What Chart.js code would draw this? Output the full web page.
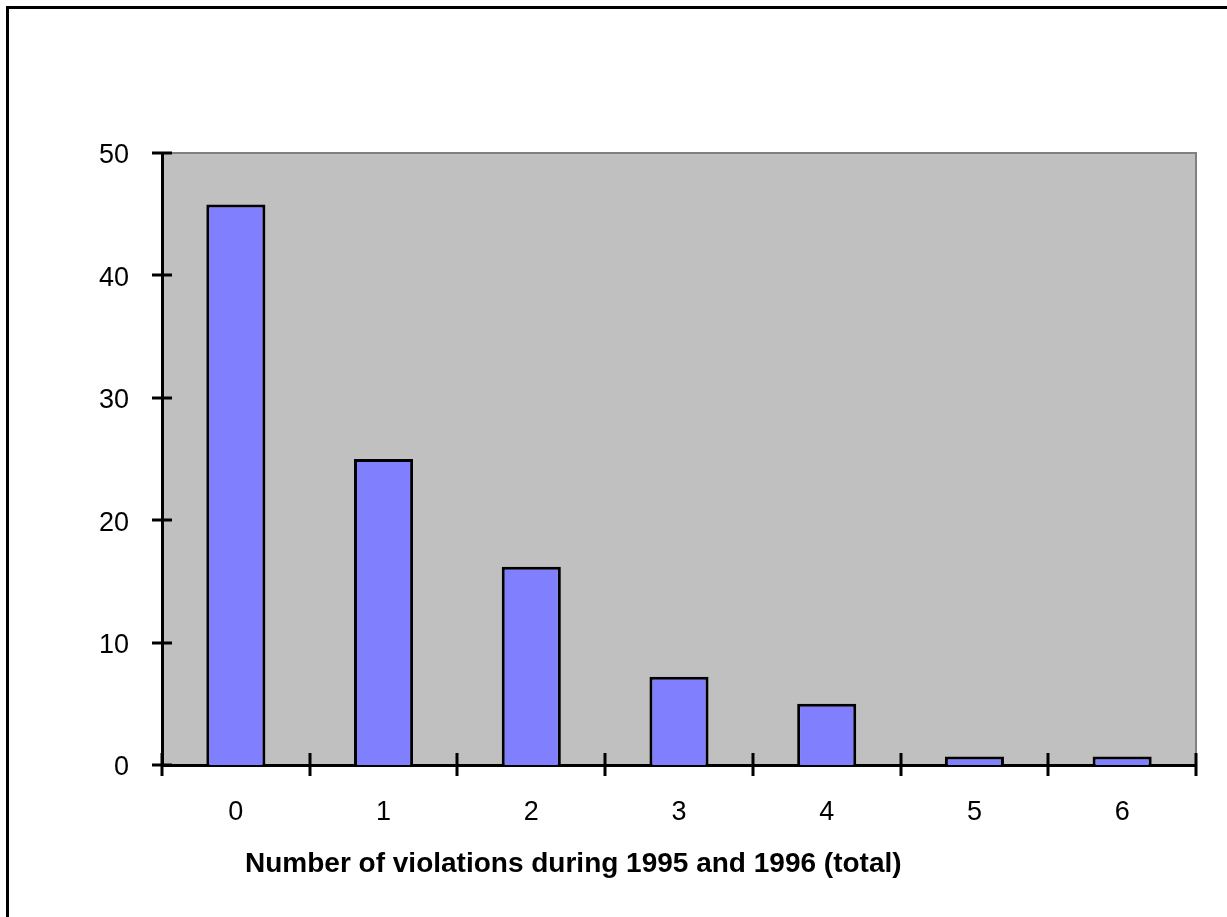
<!DOCTYPE html>
<html>
<head>
<meta charset="utf-8">
<title>Number of violations during 1995 and 1996</title>
<script src="https://cdn.jsdelivr.net/npm/chart.js@4/dist/chart.umd.min.js"></script>
<style>
  body { margin: 0; background: #fff; }
  canvas { display: block; }
</style>
</head>
<body>
<canvas id="violationsChart" width="1227" height="917"></canvas>
<script>
// Data (percent of cases)
const categories = ['0', '1', '2', '3', '4', '5', '6'];
const shareValues = [45.8, 25.0, 16.2, 7.2, 5.0, 0.7, 0.7];
const yTicks = [0, 10, 20, 30, 40, 50];
const xTitle = 'Number of violations during 1995 and 1996 (total)';

const FONT = "'Liberation Sans', Arial, sans-serif";

// grey plot area, outer frame, and the title under the axis
const backdrop = {
    id: 'backdrop',
    beforeDraw(chart) {
        const ctx = chart.ctx;
        const a = chart.chartArea;
        ctx.save();
        // outer frame (only top and left edges are visible)
        ctx.strokeStyle = '#000';
        ctx.lineWidth = 3;
        ctx.beginPath();
        ctx.moveTo(7.5, chart.height + 5);
        ctx.lineTo(7.5, 7.5);
        ctx.lineTo(chart.width + 5, 7.5);
        ctx.stroke();
        // plot area
        ctx.fillStyle = '#c0c0c0';
        ctx.fillRect(a.left, a.top, a.right - a.left, a.bottom - a.top);
        ctx.strokeStyle = '#808080';
        ctx.lineWidth = 2;
        ctx.beginPath();
        ctx.moveTo(a.left, a.top);
        ctx.lineTo(a.right, a.top);
        ctx.lineTo(a.right, a.bottom);
        ctx.stroke();
        ctx.restore();
    },
    afterDraw(chart) {
        const ctx = chart.ctx;
        const x = chart.scales.x;
        const y = chart.scales.y;
        ctx.save();
        ctx.strokeStyle = '#000';
        ctx.lineWidth = 3;
        ctx.beginPath();
        // y ticks cross the axis
        y.ticks.forEach(t => {
            const py = Math.round(y.getPixelForValue(t.value));
            ctx.moveTo(x.left - 10, py);
            ctx.lineTo(x.left + 10, py);
        });
        // x ticks sit between categories
        const bounds = [x.left];
        for (let i = 1; i < categories.length; i++) {
            bounds.push((x.getPixelForTick(i - 1) + x.getPixelForTick(i)) / 2);
        }
        bounds.push(x.right);
        bounds.forEach(px => {
            px = Math.round(px);
            ctx.moveTo(px, y.bottom - 12);
            ctx.lineTo(px, y.bottom + 11);
        });
        ctx.stroke();

        ctx.fillStyle = '#000';
        ctx.font = 'bold 28px ' + FONT;
        ctx.textAlign = 'left';
        ctx.textBaseline = 'alphabetic';
        ctx.fillText(xTitle, 245, 872);
        ctx.restore();
    }
};

const ctx = document.getElementById('violationsChart').getContext('2d');
new Chart(ctx, {
    type: 'bar',
    data: {
        labels: categories,
        datasets: [
            {
                data: shareValues,
                backgroundColor: '#8080ff',
                borderColor: '#000000',
                borderWidth: 3,
                barPercentage: 0.4,
                categoryPercentage: 1.0
            }
        ]
    },
    options: {
        responsive: false,
        animation: false,
        layout: {
            padding: { left: 0, top: 153, right: 31, bottom: 0 }
        },
        plugins: {
            legend: { display: false },
            tooltip: { enabled: false }
        },
        scales: {
            x: {
                grid: { display: false },
                border: { display: true, color: '#000', width: 3 },
                ticks: {
                    color: '#000',
                    font: { family: FONT, size: 27 },
                    padding: 23,
                    maxRotation: 0
                },
                afterFit(scale) { scale.height = 152; }
            },
            y: {
                min: 0,
                max: 50,
                afterBuildTicks(scale) {
                    scale.ticks = yTicks.map(v => ({ value: v }));
                },
                grid: { display: false },
                border: { display: true, color: '#000', width: 3 },
                ticks: {
                    color: '#000',
                    font: { family: FONT, size: 27 },
                    padding: 25,
                    labelOffset: 3
                },
                afterFit(scale) { scale.width = 162; }
            }
        }
    },
    plugins: [backdrop]
});
</script>
</body>
</html>
